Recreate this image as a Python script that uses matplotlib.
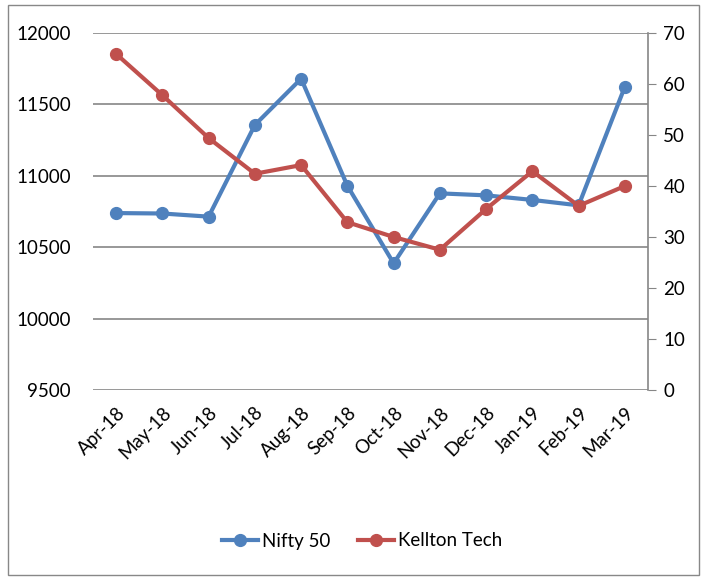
import matplotlib
matplotlib.use("Agg")
import matplotlib.pyplot as plt
from matplotlib.patches import Rectangle

# Monthly data, Apr-18 to Mar-19
months = ["Apr-18", "May-18", "Jun-18", "Jul-18", "Aug-18", "Sep-18",
          "Oct-18", "Nov-18", "Dec-18", "Jan-19", "Feb-19", "Mar-19"]
nifty = [10739, 10736, 10714, 11356, 11680, 10930,
         10387, 10877, 10863, 10831, 10793, 11624]
kellton = [65.9, 57.8, 49.4, 42.4, 44.1, 32.9,
           30.0, 27.5, 35.5, 42.9, 36.1, 40.0]

left_ticks = [9500, 10000, 10500, 11000, 11500, 12000]
right_ticks = [0, 10, 20, 30, 40, 50, 60, 70]

blue = "#4F81BD"
red = "#C0504D"
grid = "#868686"

plt.rcParams["font.family"] = ["Lato", "DejaVu Sans"]

fig = plt.figure(figsize=(7.01, 5.78), dpi=100)
# outer chart border
fig.patches.append(Rectangle((8 / 701, 3 / 578), 691 / 701, 570 / 578,
                             transform=fig.transFigure, fill=False,
                             edgecolor="#888888", linewidth=1))

ax = fig.add_axes([93 / 701, 188 / 578, 555 / 701, 357 / 578])
ax2 = ax.twinx()

x = list(range(len(months)))
ax.set_xlim(-0.5, len(months) - 0.5)
ax.set_ylim(9500, 12000)
ax2.set_ylim(0, 70)

for v in left_ticks:
    ax.axhline(v, color=grid, linewidth=1.2, zorder=0)

l1, = ax.plot(x, nifty, color=blue, linewidth=3, marker="o", markersize=8.5,
              label="Nifty 50", zorder=3)
l2, = ax2.plot(x, kellton, color=red, linewidth=3, marker="o", markersize=8.5,
               label="Kellton Tech", zorder=3)

ax.set_yticks(left_ticks)
ax.set_yticklabels([str(v) for v in left_ticks], fontsize=13.5)
ax.tick_params(axis="y", length=0, pad=16)
ax2.set_yticks(right_ticks)
ax2.set_yticklabels([str(v) for v in right_ticks], fontsize=13.5)
ax2.tick_params(axis="y", length=6, color=grid, pad=5)

ax.set_xticks(x)
ax.set_xticklabels(months, rotation=45, ha="right", rotation_mode="anchor", fontsize=13.5)
ax.tick_params(axis="x", length=0, pad=10)

for a in (ax, ax2):
    for s in ("top", "left", "bottom", "right"):
        a.spines[s].set_visible(False)
ax2.spines["right"].set_visible(True)
ax2.spines["right"].set_color(grid)
ax2.spines["right"].set_linewidth(1.2)

fig.legend(handles=[l1, l2], loc="center", bbox_to_anchor=(362 / 701, 1 - 541 / 578),
           ncol=2, frameon=False, fontsize=13.5, handlelength=1.9, columnspacing=1.5,
           handletextpad=0.2)

fig.savefig("out.png", dpi=100)
